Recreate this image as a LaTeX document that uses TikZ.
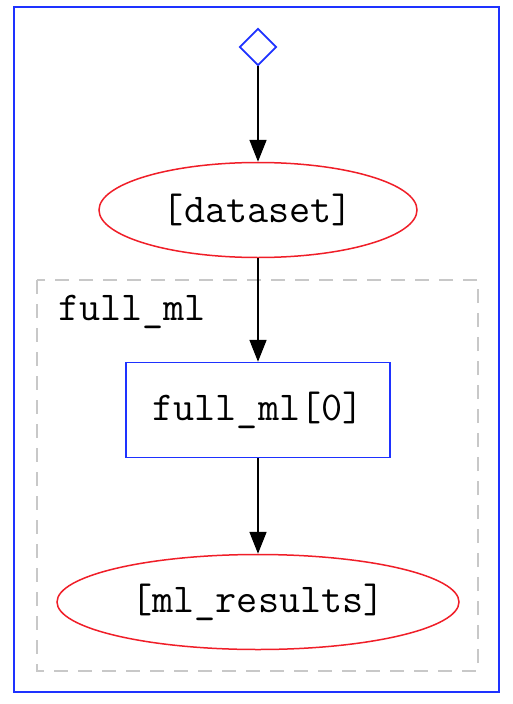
\documentclass[tikz,border=0pt]{standalone}
\usepackage{fontspec}
\usetikzlibrary{shapes.geometric,arrows.meta}
\definecolor{gvblue}{RGB}{30,50,255}
\definecolor{gvred}{RGB}{240,30,40}
\definecolor{gvgray}{RGB}{200,200,200}
\begin{document}
\begin{tikzpicture}[x=1pt,y=-1pt,
  every node/.style={font=\ttfamily\fontsize{41}{46}\selectfont, inner sep=0pt},
  dataell/.style={ellipse, draw=gvred, line width=1.5pt, minimum width=#1, minimum height=95pt},
  taskbox/.style={rectangle, draw=gvblue, line width=1.5pt, minimum width=264pt, minimum height=95pt},
  startdia/.style={diamond, draw=gvblue, line width=1.8pt, minimum width=37pt, minimum height=37pt},
  flow/.style={-{Triangle[length=22pt,width=17pt]}, line width=1.8pt, black}
]
\useasboundingbox (0,0) rectangle (512,704);
\fill[white] (0,0) rectangle (512,704);
\draw[gvblue, line width=1.8pt] (14,7) rectangle (499,692);
\draw[gvgray, dashed, dash pattern=on 14pt off 10pt, line width=2.2pt] (37,280) rectangle (478,671);
\node[anchor=base west] (lbl) at (58,320) {full\_ml};
\node[startdia] (start) at (258,47) {};
\node[dataell=318pt] (ds) at (258,210) {[dataset]};
\node[taskbox] (task) at (258,410) {full\_ml[0]};
\node[dataell=402pt] (res) at (258,602) {[ml\_results]};
\draw[flow] (start) -- (ds);
\draw[flow] (ds) -- (task);
\draw[flow] (task) -- (res);
\end{tikzpicture}
\end{document}
